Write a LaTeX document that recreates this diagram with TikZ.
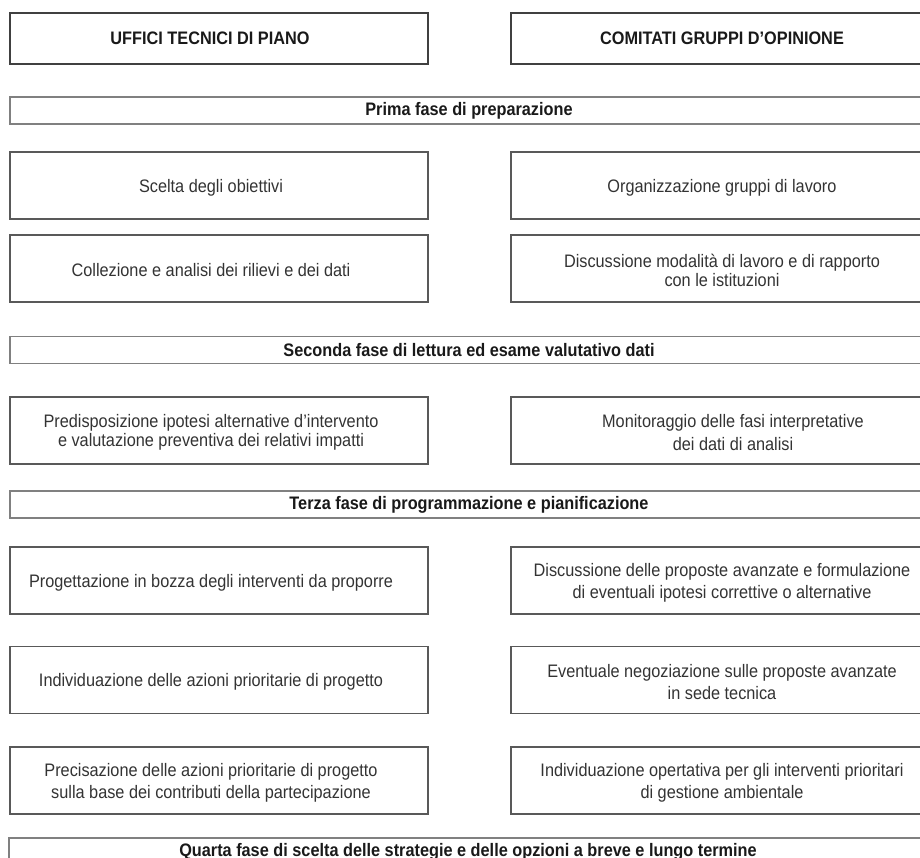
\documentclass[tikz,border=0pt]{standalone}
\usepackage{fontspec}
\setmainfont[FakeStretch=0.9]{Liberation Sans}
\usetikzlibrary{positioning}

\begin{document}
\begin{tikzpicture}[
      x=0.02cm, y=-0.02cm,
      every node/.style={text=black!80, font=\fontsize{10.3}{12.5}\selectfont},
      box/.style={draw=black!65, line width=0.8pt, minimum width=8.36cm, minimum height=1.34cm, inner sep=0pt},
      txt/.style={align=center, inner sep=0pt},
      lcell/.style={box, label={[txt, xshift=-0.16cm, yshift=-0.04cm]center:#1}},
      rcell/.style={box, label={[txt, xshift=0.04cm, yshift=-0.04cm]center:#1}},
      head/.style={minimum height=1.02cm, draw=black!75},
      bold/.style={font=\bfseries\fontsize{10.3}{12.5}\selectfont, text=black!90},
      phase/.style={draw=black!50, line width=1pt, minimum width=18.36cm, minimum height=0.54cm, inner sep=0pt, bold}
    ]
    \useasboundingbox (0,0) rectangle (920,858);
    \clip (0,0) rectangle (920,858);

    % Headers
    \node[box, head, label={[txt, bold, xshift=-0.18cm]center:UFFICI TECNICI DI PIANO}] (uffici) at (219,38.5) {};
    \node[box, head, label={[txt, bold, xshift=0.04cm]center:COMITATI GRUPPI D’OPINIONE}] (comitati) at (720,38.5) {};

    % Phase 1
    \node[phase] (prima) at (469,110.5) {Prima fase di preparazione};
    \node[lcell={Scelta degli obiettivi}] (scelta) at (219,185.5) {};
    \node[rcell={Organizzazione gruppi di lavoro}] (gruppi) at (720,185.5) {};
    \node[lcell={Collezione e analisi dei rilievi e dei dati}] (collezione) at (219,268.5) {};
    \node[rcell={Discussione modalità di lavoro e di rapporto\\[-2pt] con le istituzioni}] (modalita) at (720,268.5) {};

    % Phase 2
    \node[phase] (seconda) at (469,350) {Seconda fase di lettura ed esame valutativo dati};
    \node[lcell={Predisposizione ipotesi alternative d’intervento\\[-1.5pt] e valutazione preventiva dei relativi impatti}] (ipotesi) at (219,430.5) {};
    \node[box, label={[txt, xshift=0.26cm, yshift=-0.04cm]center:Monitoraggio delle fasi interpretative\\[0.5pt] dei dati di analisi}] (monitoraggio) at (720,430.5) {};

    % Phase 3
    \node[phase] (terza) at (469,504.5) {Terza fase di programmazione e pianificazione};
    \node[lcell={Progettazione in bozza degli interventi da proporre}] (bozza) at (219,580.5) {};
    \node[rcell={Discussione delle proposte avanzate e formulazione\\ di eventuali ipotesi correttive o alternative}] (proposte) at (720,580.5) {};
    \node[lcell={Individuazione delle azioni prioritarie di progetto}] (azioni) at (219,680) {};
    \node[rcell={Eventuale negoziazione sulle proposte avanzate\\ in sede tecnica}] (negoziazione) at (720,680) {};
    \node[lcell={Precisazione delle azioni prioritarie di progetto\\ sulla base dei contributi della partecipazione}] (precisazione) at (219,780.5) {};
    \node[rcell={Individuazione opertativa per gli interventi prioritari\\ di gestione ambientale}] (operativa) at (720,780.5) {};

    % Phase 4
    \node[phase] (quarta) at (468,851.5) {Quarta fase di scelta delle strategie e delle opzioni a breve e lungo termine};
\end{tikzpicture}
\end{document}
